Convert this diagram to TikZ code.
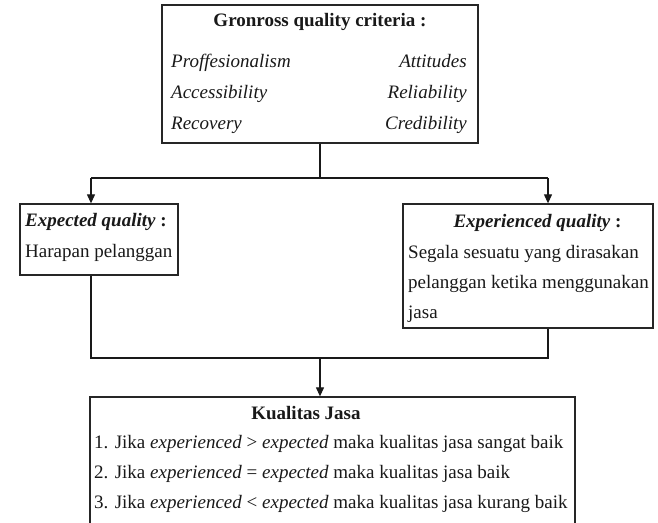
\documentclass[tikz,border=0pt]{standalone}
\usepackage{fontspec}
\setmainfont{Liberation Serif}
\usetikzlibrary{arrows.meta}
\begin{document}
\begin{tikzpicture}[x=1pt,y=-1pt,
  box/.style={draw=black!85,line width=1.3pt,inner sep=0pt,fill=none},
  txt/.style={inner sep=0pt,font=\fontsize{19}{22}\selectfont,text=black!90},
  conn/.style={draw=black!90,line width=1.1pt},
  arr/.style={conn,-{Triangle[length=9pt,width=8pt]}}]
\clip (0,0) rectangle (658,522);
\fill[white] (0,0) rectangle (658,522);
% boxes
\node[box,minimum width=316pt,minimum height=138pt] (top) at (320,74) {};
\node[box,minimum width=158pt,minimum height=71pt] (left) at (99,239.5) {};
\node[box,minimum width=250pt,minimum height=124pt] (right) at (528,266) {};
\node[box,minimum width=485pt,minimum height=160pt] (bottom) at (332.5,477) {};
% top box text
\node[txt,anchor=base] (t0) at (320,27) {\textbf{Gronross quality criteria :}};
\node[txt,anchor=base west] (t1) at (171,67) {\textit{Proffesionalism}};
\node[txt,anchor=base west] (t2) at (171,98) {\textit{Accessibility}};
\node[txt,anchor=base west] (t3) at (171,129) {\textit{Recovery}};
\node[txt,anchor=base east] (t4) at (467,67) {\textit{Attitudes}};
\node[txt,anchor=base east] (t5) at (467,98) {\textit{Reliability}};
\node[txt,anchor=base east] (t6) at (467,129) {\textit{Credibility}};
% left box text
\node[txt,anchor=base west] (l1) at (25,226) {\textbf{\textit{Expected quality}} \textbf{:}};
\node[txt,anchor=base west] (l2) at (25,257) {Harapan pelanggan};
% right box text
\node[txt,anchor=base] (r1) at (537.5,227) {\textbf{\textit{Experienced quality}} \textbf{:}};
\node[txt,anchor=base west] (r2) at (408,258) {Segala sesuatu yang dirasakan};
\node[txt,anchor=base west] (r3) at (408,288) {pelanggan ketika menggunakan};
\node[txt,anchor=base west] (r4) at (408,318) {jasa};
% bottom box text
\node[txt,anchor=base] (b0) at (306,419) {\textbf{Kualitas Jasa}};
\node[txt,anchor=base west] (b1) at (94,448) {1. Jika \textit{experienced} > \textit{expected} maka kualitas jasa sangat baik};
\node[txt,anchor=base west] (b2) at (94,478) {2. Jika \textit{experienced} = \textit{expected} maka kualitas jasa baik};
\node[txt,anchor=base west] (b3) at (94,508) {3. Jika \textit{experienced} < \textit{expected} maka kualitas jasa kurang baik};
% connectors
\coordinate (jm) at (320,178);
\coordinate (jl) at (91,178);
\coordinate (jr) at (548,178);
\coordinate (kl) at (91,358);
\coordinate (kr) at (548,358);
\coordinate (km) at (320,358);
\draw[conn] (top.south) -- (jm);
\draw[conn] (jl) -- (jr);
\draw[arr] (jl) -- (jl |- left.north);
\draw[arr] (jr) -- (jr |- right.north);
\draw[conn] (kl |- left.south) -- (kl) -- (kr) -- (kr |- right.south);
\draw[arr] (km) -- (km |- bottom.north);
\end{tikzpicture}
\end{document}
